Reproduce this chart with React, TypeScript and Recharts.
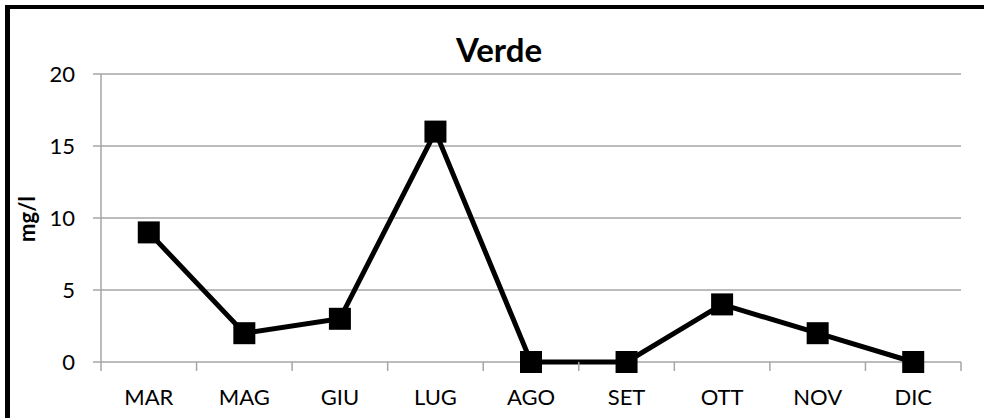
import { LineChart, Line, XAxis, YAxis, CartesianGrid, Label } from 'recharts';

const months = ['MAR', 'MAG', 'GIU', 'LUG', 'AGO', 'SET', 'OTT', 'NOV', 'DIC'];
const verde = [9, 2, 3, 16, 0, 0, 4, 2, 0];
const yTicks = [0, 5, 10, 15, 20];

const data = months.map((m, i) => ({ month: m, verde: verde[i] }));

const W = 984;
const H = 418;
const PLOT_LEFT = 101;
const PLOT_RIGHT = 961;
const AXIS_Y = 362;
const BAND = (PLOT_RIGHT - PLOT_LEFT) / months.length;
const FONT = 'Lato, "Open Sans", sans-serif';
const GRID = '#a6a6a6';

// category tick marks sit on the band edges, labels in the middle
function MonthTick(props: any) {
  const { x, y, payload, index } = props;
  return (
    <g>
      <line x1={x - BAND / 2} x2={x - BAND / 2} y1={AXIS_Y} y2={AXIS_Y + 9} stroke={GRID} strokeWidth={1.5} />
      {index === months.length - 1 && (
        <line x1={x + BAND / 2} x2={x + BAND / 2} y1={AXIS_Y} y2={AXIS_Y + 9} stroke={GRID} strokeWidth={1.5} />
      )}
      <text x={x} y={y + 43} textAnchor="middle" fill="#000" fontSize={22} fontFamily={FONT}>
        {payload.value}
      </text>
    </g>
  );
}

function SquareDot(props: any) {
  const { cx, cy } = props;
  if (cx == null || cy == null) return null;
  return <rect x={cx - 11} y={cy - 11} width={22} height={22} fill="#000" />;
}

export default function App() {
  return (
    <div style={{ position: 'absolute', left: 0, top: 0, width: W, height: H, background: '#fff', overflow: 'hidden', fontFamily: FONT }}>
      <div style={{ position: 'absolute', left: 5, top: 5, width: W, height: H, borderTop: '4px solid #000', borderLeft: '5px solid #000', boxSizing: 'border-box' }} />
      <div style={{ position: 'absolute', left: 0, top: 0 }}>
        <LineChart width={W} height={H} data={data} margin={{ top: 74, right: W - PLOT_RIGHT, bottom: 16, left: 0 }}>
          <text x={499} y={62} textAnchor="middle" fontSize={33} fontWeight="bold" fontFamily={FONT} fill="#000">
            Verde
          </text>
          <CartesianGrid vertical={false} stroke={GRID} strokeWidth={1.5} />
          <XAxis
            dataKey="month"
            height={40}
            padding={{ left: BAND / 2, right: BAND / 2 }}
            axisLine={false}
            tickLine={false}
            tickSize={0}
            tickMargin={0}
            interval={0}
            tick={<MonthTick />}
          />
          <YAxis
            width={PLOT_LEFT}
            domain={[0, 20]}
            ticks={yTicks}
            axisLine={{ stroke: GRID, strokeWidth: 1.5 }}
            tickLine={{ stroke: GRID, strokeWidth: 1.5 }}
            tickSize={8}
            tickMargin={18}
            tick={{ fill: '#000', fontSize: 22, fontFamily: FONT }}
          >
            <Label
              content={() => (
                <text x={35} y={219} transform="rotate(-90 35 219)" textAnchor="middle" fontSize={22} fontWeight="bold" fontFamily={FONT} fill="#000">
                  mg/l
                </text>
              )}
            />
          </YAxis>
          <Line
            type="linear"
            dataKey="verde"
            stroke="#000"
            strokeWidth={5}
            dot={<SquareDot />}
            activeDot={false}
            isAnimationActive={false}
          />
        </LineChart>
      </div>
    </div>
  );
}
